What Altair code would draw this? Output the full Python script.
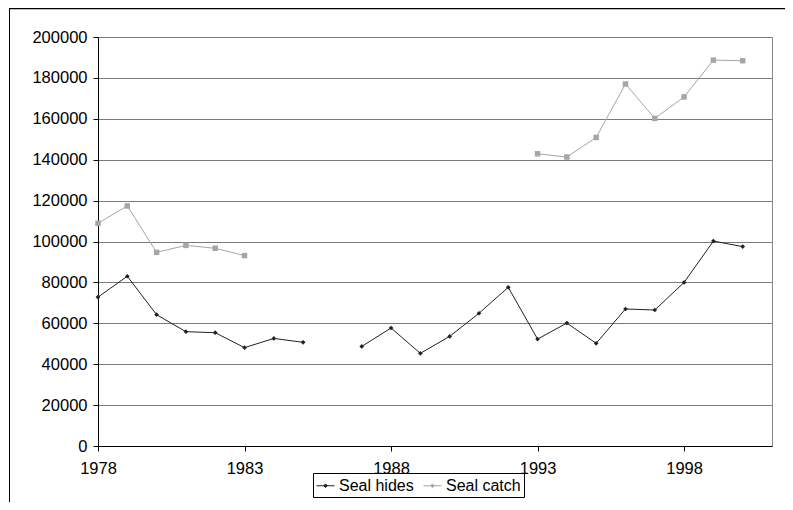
import altair as alt
import pandas as pd

years = list(range(1978, 2001))
seal_hides = [72800, 83000, 64200, 55900, 55400, 48100, 52600, 50700, None,
              48700, 57700, 45300, 53600, 64900, 77600, 52300, 60100, 50200,
              67000, 66500, 80000, 100200, 97500]
seal_catch = [108900, 117400, 94700, 98100, 96700, 93100,
              None, None, None, None, None, None, None, None, None,
              142900, 141300, 150900, 177000, 160200, 170700, 188700, 188400]
series_names = ["Seal hides", "Seal catch"]
series_colors = ["#222222", "#a6a6a6"]
x_ticks = [1978, 1983, 1988, 1993, 1998]
y_ticks = list(range(0, 200001, 20000))

rows = []
for name, vals in zip(series_names, [seal_hides, seal_catch]):
    for yr, v in zip(years, vals):
        rows.append({"year": yr, "value": v, "series": name})
df = pd.DataFrame(rows)

FONT = "Liberation Sans, Arial, sans-serif"
W, H = 674, 409

base = alt.Chart(df).encode(
    x=alt.X("year:Q",
            scale=alt.Scale(domain=[1978, 2001], nice=False, zero=False),
            axis=alt.Axis(values=x_ticks, format="d", title=None, grid=False,
                          tickSize=5, labelPadding=9, labelFlush=False,
                          domainColor="#000000", tickColor="#000000")),
    y=alt.Y("value:Q",
            scale=alt.Scale(domain=[0, 200000], nice=False),
            axis=alt.Axis(values=y_ticks, format="d", title=None, grid=True,
                          gridColor="#7a7a7a", gridWidth=1, tickSize=5,
                          labelPadding=6, labelFlush=False,
                          domainColor="#000000", tickColor="#000000")),
    color=alt.Color("series:N",
                    scale=alt.Scale(domain=series_names, range=series_colors),
                    legend=alt.Legend(
                        title=None, orient="none", direction="horizontal",
                        legendX=215, legendY=436,
                        strokeColor="#000000", padding=3,
                        labelFontSize=16, labelFont=FONT, labelColor="#000000",
                        labelOffset=4, columnPadding=7,
                        symbolType="M-1,0H1M0,-0.2L0.2,0L0,0.2L-0.2,0Z",
                        symbolSize=324, symbolStrokeWidth=1)),
)

lines = base.mark_line(strokeWidth=1, invalid="break-paths-filter-domains")
pts_hides = base.transform_filter(alt.datum.series == "Seal hides").mark_point(
    shape="diamond", filled=True, size=22, opacity=1)
pts_catch = base.transform_filter(alt.datum.series == "Seal catch").mark_point(
    shape="square", filled=True, size=30, opacity=1)

frame_left = alt.Chart(pd.DataFrame({"k": [0]})).mark_rule(
    color="#000000", strokeWidth=1).encode(
    x=alt.value(-88.5), y=alt.value(-29), y2=alt.value(H + 60))
frame_top = alt.Chart(pd.DataFrame({"k": [0]})).mark_rule(
    color="#000000", strokeWidth=1.5).encode(
    x=alt.value(-88.5), x2=alt.value(W + 20), y=alt.value(-28.5))

chart = alt.layer(lines, pts_hides, pts_catch, frame_left, frame_top).properties(
    width=W, height=H,
    padding={"left": 90, "top": 29, "right": 13, "bottom": 56},
    autosize=alt.AutoSizeParams(type="none"),
    background="#ffffff",
).configure_view(
    stroke="#8a8a8a", strokeWidth=1
).configure_axis(
    labelFont=FONT, labelFontSize=16.5, labelColor="#000000"
)

chart.save("out.html", embed_options={"renderer": "svg", "actions": False})
